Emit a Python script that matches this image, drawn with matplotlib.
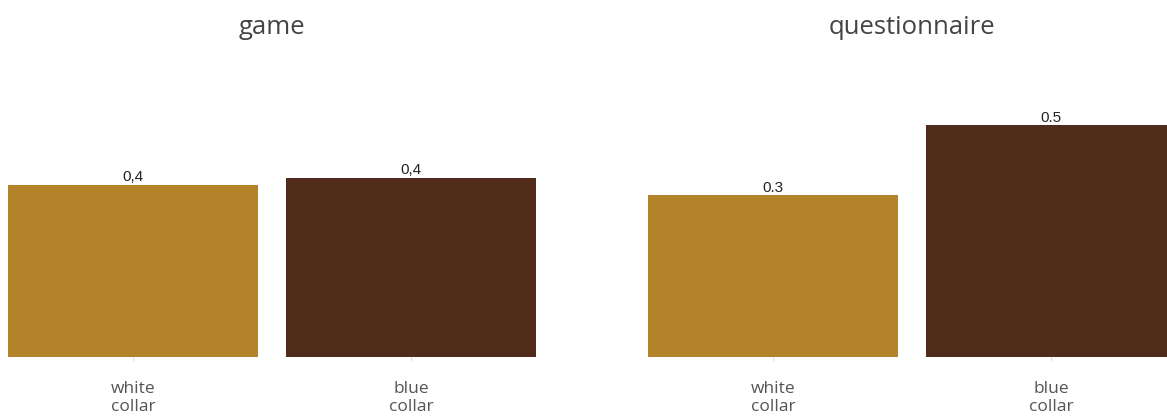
import matplotlib
matplotlib.use("Agg")
import matplotlib.pyplot as plt

# Share of respondents per group, by survey instrument
categories = ["white\ncollar", "blue\ncollar"]
game_values = [0.371, 0.386]
questionnaire_values = [0.349, 0.50]
panel_titles = ["game", "questionnaire"]
decimal_marks = [",", "."]

colors = ["#B3832A", "#522C1B"]

W, H = 1167, 416
fig = plt.figure(figsize=(W / 100, H / 100), dpi=100)
fig.patch.set_facecolor("white")

# axes boxes in pixel coordinates: left, right
boxes = [(-6, 550), (634, 1190)]
baseline_px = 357
ymax = 0.5 * (357 - 60) / (357 - 125)

for (l, r), title, vals, dm in zip(boxes, panel_titles,
                                   [game_values, questionnaire_values],
                                   decimal_marks):
    ax = fig.add_axes([l / W, (H - baseline_px) / H, (r - l) / W,
                       (baseline_px - 60) / H])
    x = list(range(len(categories)))
    bars = ax.bar(x, vals, width=0.9, color=colors)
    ax.set_xlim(-0.5, 1.5)
    ax.set_ylim(0, ymax)
    for b, v in zip(bars, vals):
        txt = f"{v:.1f}".replace(".", dm)
        ax.annotate(txt, (b.get_x() + b.get_width() / 2, v),
                    xytext=(0, 0.3), textcoords="offset points",
                    ha="center", va="bottom", fontsize=11,
                    color="#222222", family="Liberation Sans")
    ax.set_xticks(x)
    ax.set_xticklabels(categories, fontsize=12.5, color="#555555",
                       family="Open Sans", linespacing=1.2)
    ax.tick_params(axis="x", length=3, color="#dddddd", pad=14)
    ax.set_yticks([])
    for s in ax.spines.values():
        s.set_visible(False)
    fig.text(((l + r) / 2) / W, 1 - 28 / H, title, ha="center", va="center",
             fontsize=18.5, color="#444444", family="Open Sans")

fig.savefig("out.png", dpi=100, facecolor="white")
